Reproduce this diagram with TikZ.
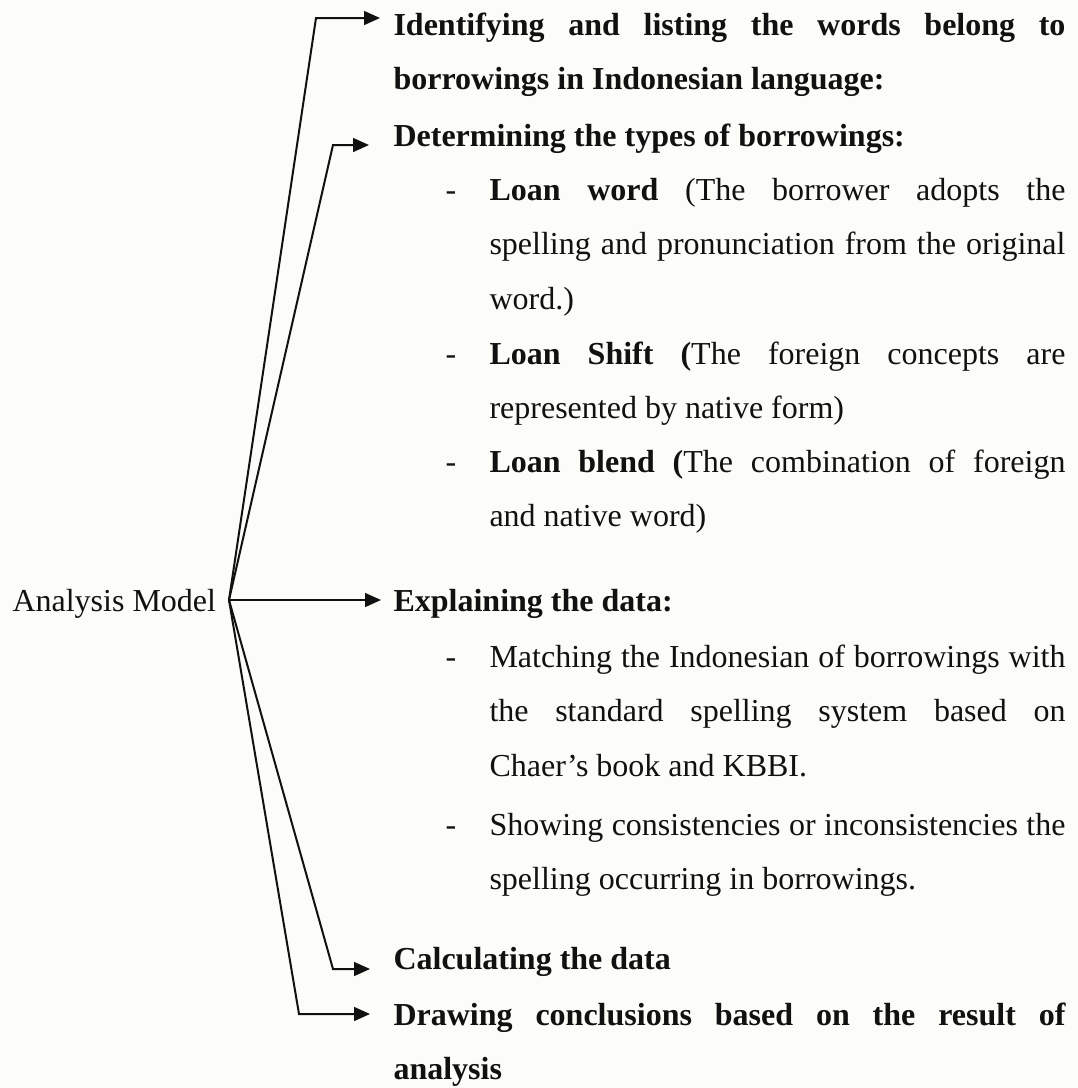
\documentclass[tikz,border=0pt]{standalone}
\usepackage{fontspec}
\setmainfont{Liberation Serif}
\usetikzlibrary{arrows.meta}
\definecolor{paper}{HTML}{FCFCF8}
\definecolor{ink}{HTML}{111111}
\tolerance=10000
\hbadness=10000
\newcommand{\dashitem}{\hangindent=16.5pt\hangafter=1\noindent\makebox[16.5pt][l]{-}}

\begin{document}
\begin{tikzpicture}[x=0.375pt, y=-0.375pt, inner sep=0pt, ink,
    flow/.style={line width=0.75pt, -{Triangle[length=6pt,width=5.2pt]}},
    step text/.style={anchor=base west, text width=252pt, align=justify,
      font=\fontsize{12pt}{20.6pt}\selectfont\bfseries},
    detail/.style={anchor=base west, text width=232.5pt, align=justify,
      font=\fontsize{12pt}{20.6pt}\selectfont}]
  \fill[paper] (0,0) rectangle (1078,1088);
  % root
  \node[anchor=base west, font=\fontsize{12pt}{20.6pt}\selectfont] (model) at (12,611) {Analysis Model};
  \coordinate (hub) at (229,600);
  % steps
  \node[step text] (ident) at (393,35) {Identifying and listing the words belong to\linebreak
    borrowings in Indonesian language:};
  \node[step text] (types) at (393,146) {Determining the types of borrowings:};
  \node[detail] (loanword) at (445,200) {\dashitem\textbf{Loan word} (The borrower adopts the\linebreak
    spelling and pronunciation from the original\linebreak word.)\par};
  \node[detail] (loanshift) at (445,364) {\dashitem\textbf{Loan Shift (}The foreign concepts are\linebreak
    represented by native form)\par};
  \node[detail] (loanblend) at (445,472) {\dashitem\textbf{Loan blend (}The combination of foreign\linebreak
    and native word)\par};
  \node[step text] (explain) at (393,611) {Explaining the data:};
  \node[detail] (match) at (445,667) {\dashitem Matching the Indonesian of borrowings with\linebreak
    the standard spelling system based on\linebreak Chaer’s book and KBBI.\par};
  \node[detail] (consist) at (445,835) {\dashitem Showing consistencies or inconsistencies the\linebreak
    spelling occurring in borrowings.\par};
  \node[step text] (calc) at (393,969) {Calculating the data};
  \node[step text] (concl) at (393,1025) {Drawing conclusions based on the result of\linebreak analysis};
  % connectors
  \coordinate (b1) at (316,18);   \coordinate (t1) at (380,18);
  \coordinate (b2) at (333,145);  \coordinate (t2) at (369,145);
  \coordinate (t3) at (381,600);
  \coordinate (b4) at (333,969);  \coordinate (t4) at (370,969);
  \coordinate (b5) at (299,1014); \coordinate (t5) at (370,1014);
  \draw[flow] (hub) -- (b1) -- (t1);
  \draw[flow] (hub) -- (b2) -- (t2);
  \draw[flow] (hub) -- (t3);
  \draw[flow] (hub) -- (b4) -- (t4);
  \draw[flow] (hub) -- (b5) -- (t5);
\end{tikzpicture}
\end{document}
